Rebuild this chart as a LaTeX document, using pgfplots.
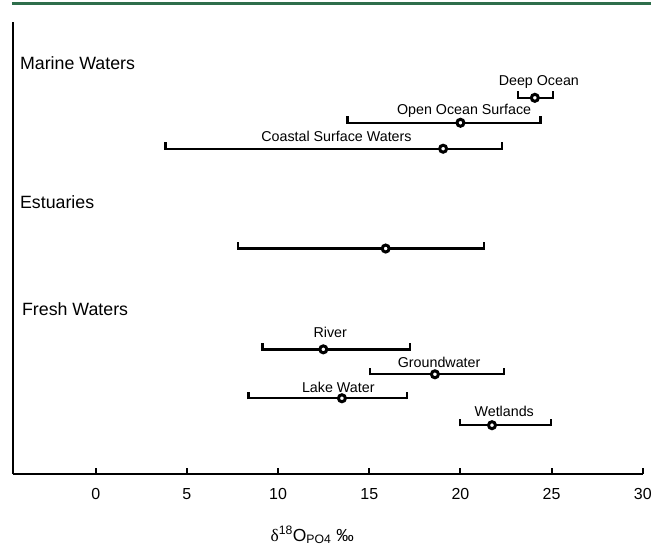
\documentclass[border=0pt]{standalone}
\usepackage{fontspec}
\setmainfont{Liberation Sans}
\newfontfamily\serif{Liberation Serif}
\usepackage{pgfplots}
\usepackage{pgfplotstable}
\pgfplotsset{compat=1.18}
\definecolor{rulegreen}{RGB}{46,110,75}

% end cap that points up only
\pgfdeclareplotmark{capup}{%
  \pgfpathmoveto{\pgfqpoint{0pt}{-1.2pt}}%
  \pgfpathlineto{\pgfqpoint{0pt}{6.5pt}}%
  \pgfusepathqstroke}

% x = mean, y = row position, lo/hi = ends of the range
\pgfplotstableread{
x     y    lo     hi
24.08 377  23.15  25.07
20.00 352  13.80  24.40
19.05 326  3.83   22.28
15.90 226  7.80   21.30
12.48 125  9.14   17.24
18.60 100  15.05  22.39
13.50 76   8.37   17.08
21.73 49   19.98  24.96
}\ranges

\begin{document}
\begin{tikzpicture}
\begin{axis}[
  scale only axis,
  width=631pt, height=453pt,
  xmin=-4.54, xmax=30,
  ymin=0, ymax=453,
  axis lines*=left,
  axis line style={line width=2pt},
  xtick={0,5,...,30},
  ytick=\empty,
  xtick align=inside,
  major tick length=6pt,
  every tick/.style={black, line width=2pt},
  /pgf/number format/assume math mode=true,
  xticklabel style={font=\fontsize{16}{18}\selectfont, anchor=center, yshift=-20pt},
  xlabel={{\serif δ}\textsuperscript{18}O\textsubscript{PO4} ‰},
  xlabel style={font=\fontsize{17.5}{19}\selectfont, at={(axis description cs:0.475,0)}, anchor=center, yshift=-61pt},
  clip=false,
]
% range lines
\addplot[only marks, mark=none, forget plot,
  error bars/.cd, x dir=both, x explicit, error mark=none,
  error bar style={line width=2.4pt, black}]
  table[x=x, y=y, x error plus expr=\thisrow{hi}-\thisrow{x},
        x error minus expr=\thisrow{x}-\thisrow{lo}] {\ranges};
% end caps
\addplot[only marks, mark=capup, mark options={line width=2.4pt, black}]
  table[x=lo, y=y] {\ranges};
\addplot[only marks, mark=capup, mark options={line width=2.4pt, black}]
  table[x=hi, y=y] {\ranges};
% means
\addplot[only marks, mark=*, mark size=3.5pt,
  mark options={draw=black, fill=white, line width=3pt}]
  table[x=x, y=y] {\ranges};

\begin{scope}[every node/.style={font=\fontsize{14.3}{16}\selectfont, inner sep=0pt}]
\node at (axis cs:24.3,393) {Deep Ocean};
\node at (axis cs:20.2,364) {Open Ocean Surface};
\node at (axis cs:13.2,338) {Coastal Surface Waters};
\node at (axis cs:12.86,142) {River};
\node at (axis cs:18.83,112) {Groundwater};
\node at (axis cs:13.3,87) {Lake Water};
\node at (axis cs:22.4,63) {Wetlands};
\end{scope}
\begin{scope}[every node/.style={font=\fontsize{17.8}{20}\selectfont, inner sep=0pt, anchor=west}]
\node at (axis cs:-4.16,412) {Marine Waters};
\node at (axis cs:-4.16,272) {Estuaries};
\node at (axis cs:-4.05,165) {Fresh Waters};
\end{scope}
\end{axis}
\draw[rulegreen, line width=3pt] (-1pt,471pt) -- (639pt,471pt);
\path[use as bounding box] (-13pt,-72pt) rectangle (642pt,475pt);
\end{tikzpicture}
\end{document}
